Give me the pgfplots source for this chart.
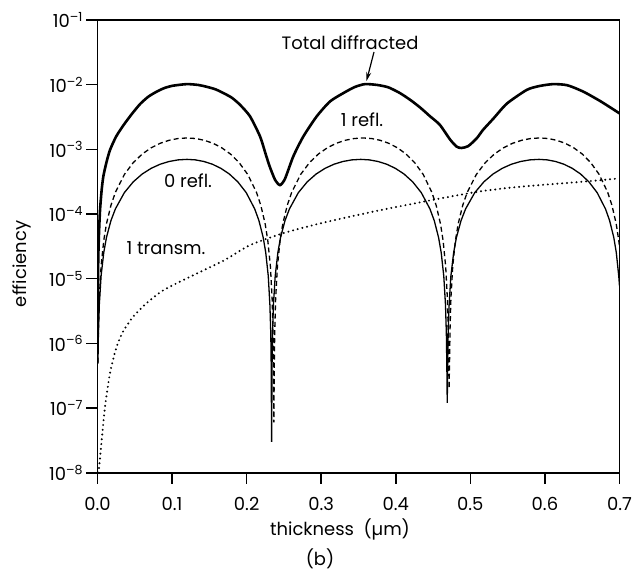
\documentclass[border=0pt]{standalone}
\usepackage{fontspec}
\setmainfont{Poppins}
\usepackage{pgfplots}
\pgfplotsset{compat=1.18}
\usetikzlibrary{arrows.meta}

\pgfplotstableread{
t v
0.0001 7.0e-7
0.0003 3.4e-6
0.001 1.95e-5
0.002 5.0e-5
0.0034 1.15e-4
0.0055 2.3e-4
0.0078 3.8e-4
0.012 6.3e-4
0.0168 9.8e-4
0.025 1.58e-3
0.0346 2.34e-3
0.045 3.4e-3
0.057 5.0e-3
0.068 6.5e-3
0.079 7.76e-3
0.090 8.9e-3
0.1017 9.66e-3
0.120 1.02e-2
0.135 9.9e-3
0.146 9.3e-3
0.158 8.5e-3
0.169 7.4e-3
0.180 6.3e-3
0.191 4.9e-3
0.2045 3.24e-3
0.218 1.58e-3
0.226 8.1e-4
0.231 5.4e-4
0.238 3.4e-4
0.2447 2.8e-4
0.2514 3.5e-4
0.2626 7.8e-4
0.276 1.58e-3
0.294 3.24e-3
0.3118 5.5e-3
0.3296 7.4e-3
0.345 9.2e-3
0.3587 1.02e-2
0.375 9.9e-3
0.390 9.1e-3
0.4057 7.4e-3
0.420 5.75e-3
0.433 4.4e-3
0.446 3.24e-3
0.459 2.4e-3
0.473 1.41e-3
0.4817 1.1e-3
0.488 1.05e-3
0.497 1.12e-3
0.5085 1.48e-3
0.517 2.0e-3
0.531 3.0e-3
0.549 5.1e-3
0.5756 8.3e-3
0.592 9.5e-3
0.611 1.02e-2
0.630 9.8e-3
0.6515 7.8e-3
0.675 5.5e-3
0.700 3.6e-3
}\total

\pgfplotstableread{
t v
0.0006 4.87e-7
0.0012 1.38e-6
0.0024 3.90e-6
0.0048 1.10e-5
0.0084 2.54e-5
0.012 4.33e-5
0.018 7.90e-5
0.024 1.20e-4
0.036 2.14e-4
0.048 3.15e-4
0.060 4.16e-4
0.072 5.09e-4
0.084 5.89e-4
0.096 6.49e-4
0.108 6.87e-4
0.120 7.00e-4
0.13135 6.87e-4
0.1427 6.49e-4
0.15405 5.89e-4
0.1654 5.09e-4
0.17675 4.16e-4
0.1881 3.15e-4
0.19945 2.14e-4
0.2108 1.20e-4
0.2165 7.90e-5
0.2222 4.33e-5
0.2256 2.54e-5
0.2290 1.10e-5
0.2312 3.90e-6
0.2324 1.38e-6
0.2329 4.87e-7
0.2335 3.0e-8
0.2341 4.87e-7
0.2347 1.38e-6
0.2359 3.90e-6
0.2383 1.10e-5
0.2419 2.54e-5
0.24545 4.33e-5
0.25143 7.90e-5
0.2574 1.20e-4
0.26935 2.14e-4
0.2813 3.15e-4
0.29325 4.16e-4
0.3052 5.09e-4
0.31715 5.89e-4
0.3291 6.49e-4
0.34105 6.87e-4
0.353 7.00e-4
0.3646 6.87e-4
0.3762 6.49e-4
0.3878 5.89e-4
0.3994 5.09e-4
0.411 4.16e-4
0.4226 3.15e-4
0.4342 2.14e-4
0.4458 1.20e-4
0.4516 7.90e-5
0.4574 4.33e-5
0.46088 2.54e-5
0.46436 1.10e-5
0.46668 3.90e-6
0.46784 1.38e-6
0.46842 4.87e-7
0.469 1.2e-7
0.4696 4.87e-7
0.4702 1.38e-6
0.4715 3.90e-6
0.4739 1.10e-5
0.4776 2.54e-5
0.4813 4.33e-5
0.4875 7.90e-5
0.4936 1.20e-4
0.5059 2.14e-4
0.5182 3.15e-4
0.5305 4.16e-4
0.5428 5.09e-4
0.5551 5.89e-4
0.5674 6.49e-4
0.5797 6.87e-4
0.592 7.00e-4
0.60315 6.87e-4
0.6143 6.49e-4
0.62545 5.89e-4
0.6366 5.09e-4
0.64775 4.16e-4
0.6589 3.15e-4
0.67005 2.14e-4
0.6812 1.20e-4
0.68678 7.90e-5
0.69235 4.33e-5
0.6957 2.54e-5
0.6990 1.10e-5
0.7000 7.7e-6
}\zerorefl

\pgfplotstableread{
t v
0.0006 5.05e-7
0.0012 1.58e-6
0.0024 4.97e-6
0.0048 1.56e-5
0.0084 3.91e-5
0.012 7.03e-5
0.018 1.36e-4
0.024 2.16e-4
0.036 4.08e-4
0.048 6.24e-4
0.060 8.47e-4
0.072 1.057e-3
0.084 1.240e-3
0.096 1.380e-3
0.108 1.470e-3
0.120 1.500e-3
0.13165 1.470e-3
0.1433 1.380e-3
0.15495 1.240e-3
0.1666 1.057e-3
0.17825 8.47e-4
0.1899 6.24e-4
0.20155 4.08e-4
0.2132 2.16e-4
0.21903 1.36e-4
0.22485 7.03e-5
0.22835 3.91e-5
0.23184 1.56e-5
0.23417 4.97e-6
0.23534 1.58e-6
0.23592 5.05e-7
0.2365 6.0e-8
0.2371 5.05e-7
0.2377 1.58e-6
0.2389 4.97e-6
0.2413 1.56e-5
0.24487 3.91e-5
0.24845 7.03e-5
0.25443 1.36e-4
0.2604 2.16e-4
0.27235 4.08e-4
0.2843 6.24e-4
0.29625 8.47e-4
0.3082 1.057e-3
0.32015 1.240e-3
0.3321 1.380e-3
0.34405 1.470e-3
0.356 1.500e-3
0.36755 1.470e-3
0.3791 1.380e-3
0.39065 1.240e-3
0.4022 1.057e-3
0.41375 8.47e-4
0.4253 6.24e-4
0.43685 4.08e-4
0.4484 2.16e-4
0.45418 1.36e-4
0.45995 7.03e-5
0.46342 3.91e-5
0.46688 1.56e-5
0.46919 4.97e-6
0.47035 1.58e-6
0.47092 5.05e-7
0.4715 2.0e-7
0.4721 5.05e-7
0.47272 1.58e-6
0.47393 4.97e-6
0.47636 1.56e-5
0.4800 3.91e-5
0.48365 7.03e-5
0.48973 1.36e-4
0.4958 2.16e-4
0.50795 4.08e-4
0.5201 6.24e-4
0.53225 8.47e-4
0.5444 1.057e-3
0.55655 1.240e-3
0.5687 1.380e-3
0.58085 1.470e-3
0.593 1.500e-3
0.6044 1.470e-3
0.6158 1.380e-3
0.6272 1.240e-3
0.6386 1.057e-3
0.6500 8.47e-4
0.6614 6.24e-4
0.6728 4.08e-4
0.6842 2.16e-4
0.6899 1.36e-4
0.6956 7.03e-5
0.6990 3.91e-5
0.7000 3.15e-5
}\onerefl

\pgfplotstableread{
t v
0.0010 1.0e-8
0.0020 1.15e-8
0.0056 3.2e-8
0.0101 1.05e-7
0.0168 3.5e-7
0.0257 8.9e-7
0.0346 1.55e-6
0.048 2.6e-6
0.066 4.2e-6
0.088 6.6e-6
0.124 1.07e-5
0.169 1.9e-5
0.2045 3.3e-5
0.249 5.05e-5
0.294 6.95e-5
0.3386 9.1e-5
0.383 1.17e-4
0.428 1.48e-4
0.473 1.86e-4
0.513 2.24e-4
0.553 2.55e-4
0.593 2.8e-4
0.651 3.16e-4
0.700 3.55e-4
}\onetrans

\begin{document}
\begin{tikzpicture}
\path[use as bounding box] (-97.5bp,-103.3bp) rectangle (536.5bp,472.7bp);
\begin{axis}[
  at={(0,0)}, anchor=south west,
  scale only axis, width=522bp, height=452.7bp,
  ymode=log, log basis y=10,
  xmin=0, xmax=0.7, ymin=1e-8, ymax=1e-1,
  axis line style={line width=1.6bp},
  tick style={line width=1.6bp, black},
  major tick length=11bp,
  tick align=outside,
  xtick pos=bottom, ytick pos=left,
  yminorticks=false,
  xtick={0,0.1,0.2,0.3,0.4,0.5,0.6,0.7},
  xticklabels={0.0,0.1,0.2,0.3,0.4,0.5,0.6,0.7},
  ytick={1e-8,1e-7,1e-6,1e-5,1e-4,1e-3,1e-2,1e-1},
  yticklabels={10\textsuperscript{–8},10\textsuperscript{–7},10\textsuperscript{–6},10\textsuperscript{–5},10\textsuperscript{–4},10\textsuperscript{–3},10\textsuperscript{–2},10\textsuperscript{–1}},
  ticklabel style={font=\fontsize{18}{20}\selectfont},
  xticklabel style={yshift=-10bp},
  clip=true,
]
\addplot[black, line width=2.6bp, smooth, tension=0.4] table[x=t,y=v] {\total};
\addplot[black, line width=1.3bp] table[x=t,y=v] {\zerorefl};
\addplot[black, line width=1.3bp, dash pattern=on 5bp off 3.2bp] table[x=t,y=v] {\onerefl};
\addplot[black, line width=2.2bp, line cap=round, dash pattern=on 0bp off 4.8bp, smooth, tension=0.4] table[x=t,y=v] {\onetrans};
\end{axis}
\begin{scope}[font=\fontsize{18}{20}\selectfont]
\node at (252.5bp,429.7bp) {Total diffracted};
\draw[line width=1.2bp, -{Stealth[length=9bp,width=5bp]}] (276.5bp,420.7bp) -- (269bp,391.7bp);
\node at (264.5bp,352.7bp) {1 refl.};
\node at (90.5bp,291.7bp) {0 refl.};
\node at (68.5bp,224.7bp) {1 transm.};
\node[rotate=90] at (-75.5bp,208.7bp) {efficiency};
\node[anchor=base] at (242.5bp,-62.3bp) {thickness\ \ (µm)};
\node at (222.5bp,-86.3bp) {(b)};
\end{scope}
\end{tikzpicture}
\end{document}
